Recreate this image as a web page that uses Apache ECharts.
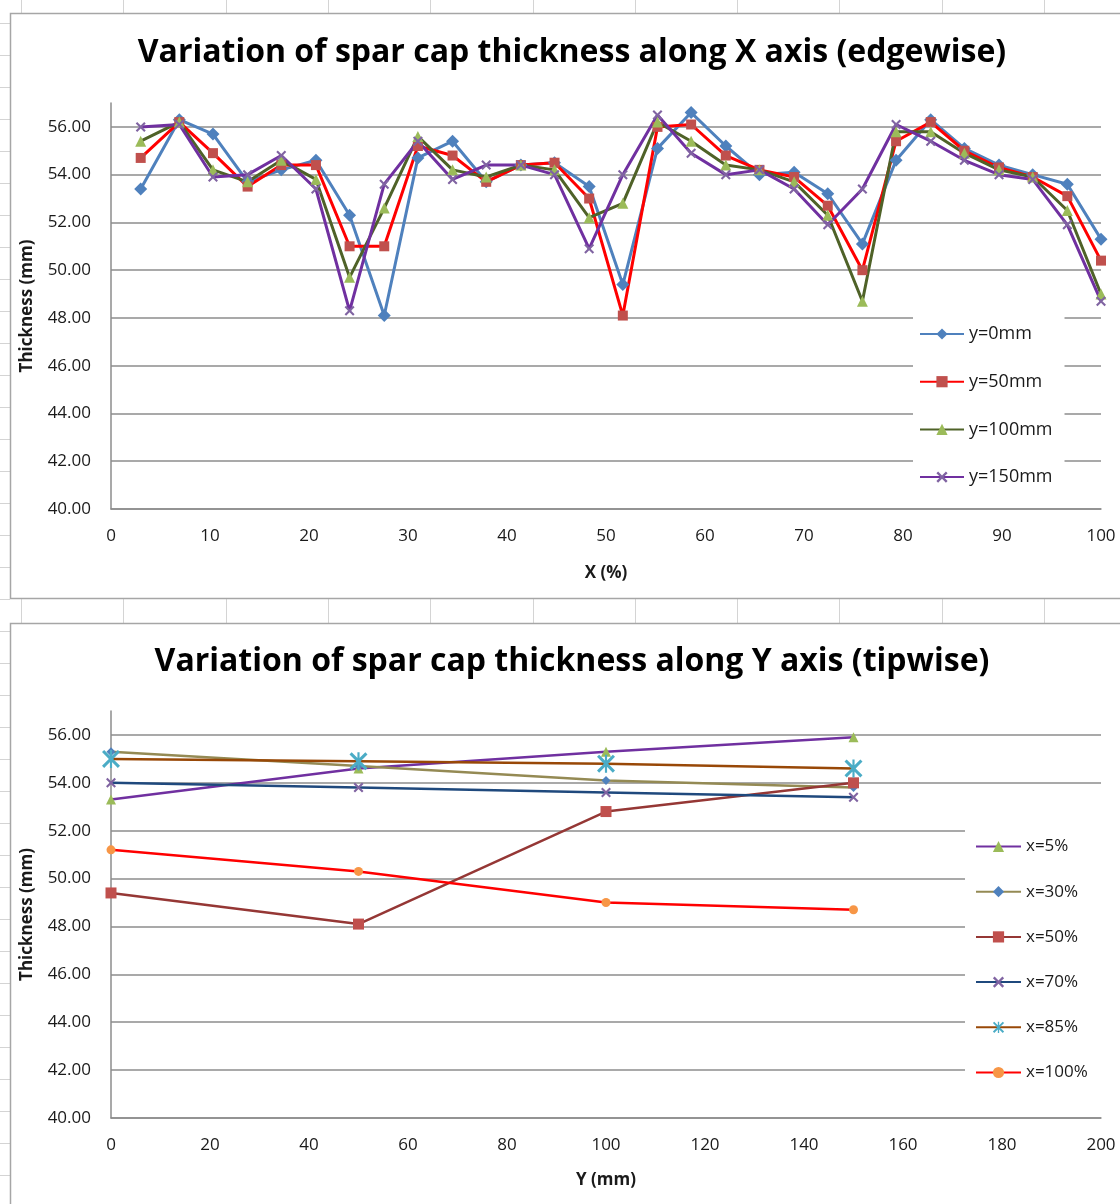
<!DOCTYPE html>
<html>
<head>
<meta charset="utf-8">
<script src="https://cdn.jsdelivr.net/npm/echarts@6/dist/echarts.min.js"></script>
<style>
html,body{margin:0;padding:0;background:#fff;}
#chart{width:1120px;height:1204px;}
</style>
</head>
<body>
<div id="chart"></div>
<script>
// ---- Top chart data: thickness along X (%) for four y positions ----
const xPct = [3, 6.9, 10.3, 13.8, 17.2, 20.7, 24.1, 27.6, 31.0, 34.5, 37.9, 41.4, 44.8, 48.3, 51.7, 55.2, 58.6, 62.1, 65.5, 69.0, 72.4, 75.9, 79.3, 82.8, 86.2, 89.7, 93.1, 96.6, 100];
const y0mm   = [53.4, 56.3, 55.7, 53.7, 54.2, 54.6, 52.3, 48.1, 54.7, 55.4, 53.7, 54.4, 54.5, 53.5, 49.4, 55.1, 56.6, 55.2, 54.0, 54.1, 53.2, 51.1, 54.6, 56.3, 55.1, 54.4, 54.0, 53.6, 51.3];
const y50mm  = [54.7, 56.2, 54.9, 53.5, 54.4, 54.4, 51.0, 51.0, 55.2, 54.8, 53.7, 54.4, 54.5, 53.0, 48.1, 56.0, 56.1, 54.8, 54.2, 53.9, 52.7, 50.0, 55.4, 56.2, 55.0, 54.3, 53.9, 53.1, 50.4];
const y100mm = [55.4, 56.2, 54.2, 53.7, 54.6, 53.8, 49.7, 52.6, 55.6, 54.2, 53.9, 54.4, 54.2, 52.2, 52.8, 56.2, 55.4, 54.4, 54.2, 53.7, 52.3, 48.7, 55.8, 55.8, 54.9, 54.2, 53.9, 52.5, 49.0];
const y150mm = [56.0, 56.1, 53.9, 54.0, 54.8, 53.4, 48.3, 53.6, 55.4, 53.8, 54.4, 54.4, 54.0, 50.9, 54.0, 56.5, 54.9, 54.0, 54.2, 53.4, 51.9, 53.4, 56.1, 55.4, 54.6, 54.0, 53.8, 51.9, 48.7];
const topNames = ['y=0mm', 'y=50mm', 'y=100mm', 'y=150mm'];

// ---- Bottom chart data: thickness along Y (mm) for six x positions ----
const yMM   = [0, 50, 100, 150];
const x5    = [53.3, 54.6, 55.3, 55.9];
const x30   = [55.3, 54.7, 54.1, 53.8];
const x50   = [49.4, 48.1, 52.8, 54.0];
const x70   = [54.0, 53.8, 53.6, 53.4];
const x85   = [55.0, 54.9, 54.8, 54.6];
const x100  = [51.2, 50.3, 49.0, 48.7];
const botNames = ['x=5%', 'x=30%', 'x=50%', 'x=70%', 'x=85%', 'x=100%'];

// ---- Axis settings ----
const thickMin = 40, thickMax = 57, thickStep = 2;
const xPctMin = 0, xPctMax = 100, xPctStep = 10;
const yMMMin = 0, yMMMax = 200, yMMStep = 20;

const FONT = 'Open Sans';
const TXT = '#1a1a1a';
const GRID_C = '#8c8c8c';
const symX = 'path://M0,1.5L1.5,0L5,3.5L8.5,0L10,1.5L6.5,5L10,8.5L8.5,10L5,6.5L1.5,10L0,8.5L3.5,5Z';
const symStar = 'path://M0,1.2L1.2,0L5,3.8L8.8,0L10,1.2L6.2,5L10,8.8L8.8,10L5,6.2L1.2,10L0,8.8L3.8,5Z M4.4,0L5.6,0L5.6,10L4.4,10Z';

function pairs(xs, ys) { return xs.map((x, i) => [x, ys[i]]); }

function lineSeries(name, idx, xs, ys, lineColor, markColor, symbol, size, width) {
  return {
    name: name, type: 'line', xAxisIndex: idx, yAxisIndex: idx,
    data: pairs(xs, ys), symbol: symbol, symbolSize: size, showSymbol: true,
    lineStyle: { color: lineColor, width: width },
    itemStyle: { color: markColor, borderWidth: 0 },
    emphasis: { disabled: true }
  };
}

function xAxisCfg(idx, min, max, step, name, gap) {
  return {
    gridIndex: idx, type: 'value', min: min, max: max, interval: step,
    axisLine: { show: true, lineStyle: { color: GRID_C, width: 1.5 } },
    axisTick: { show: false }, splitLine: { show: false },
    axisLabel: { margin: 19, fontFamily: FONT, fontSize: 17, color: TXT },
    name: name, nameLocation: 'middle', nameGap: gap,
    nameTextStyle: { fontFamily: FONT, fontSize: 17, fontWeight: 'bold', color: TXT }
  };
}
function yAxisCfg(idx) {
  return {
    gridIndex: idx, type: 'value', min: thickMin, max: thickMax, interval: thickStep,
    axisLine: { show: true, lineStyle: { color: GRID_C, width: 1.5 } },
    axisTick: { show: false },
    splitLine: { show: true, showMaxLine: false, lineStyle: { color: GRID_C, width: 1.5 } },
    axisLabel: { margin: 20, fontFamily: FONT, fontSize: 17, color: TXT, showMaxLabel: false,
      formatter: v => (v > 56 ? '' : v.toFixed(2)) },
    name: 'Thickness (mm)', nameLocation: 'middle', nameGap: 75,
    nameTextStyle: { fontFamily: FONT, fontSize: 17, fontWeight: 'bold', color: TXT }
  };
}

// decorative spreadsheet background (cell lines and chart frames)
const deco = [];
for (let k = 0; k < 11; k++) {
  const x = Math.round(21 + k * 102.3) + 0.5;
  deco.push({ type: 'line', shape: { x1: x, y1: 0, x2: x, y2: 13 }, style: { stroke: '#d4d4d4', lineWidth: 1 }, z: -10 });
  deco.push({ type: 'line', shape: { x1: x, y1: 599, x2: x, y2: 623 }, style: { stroke: '#d4d4d4', lineWidth: 1 }, z: -10 });
}
for (let k = 0; k < 38; k++) {
  const y = 23 + k * 32 + 0.5;
  deco.push({ type: 'line', shape: { x1: 0, y1: y, x2: 10, y2: y }, style: { stroke: '#d4d4d4', lineWidth: 1 }, z: -10 });
}
deco.push({ type: 'rect', shape: { x: 10.5, y: 13.5, width: 1130, height: 585 }, style: { fill: '#fff', stroke: '#a6a6a6', lineWidth: 1.5 }, z: -5 });
deco.push({ type: 'rect', shape: { x: 10.5, y: 623.5, width: 1130, height: 600 }, style: { fill: '#fff', stroke: '#a6a6a6', lineWidth: 1.5 }, z: -5 });

const option = {
  animation: false,
  backgroundColor: '#fff',
  graphic: { elements: deco },
  title: [
    { text: 'Variation of spar cap thickness along X axis (edgewise)', left: 572, top: 37, textAlign: 'center', padding: 0,
      textStyle: { fontFamily: FONT, fontWeight: 'bold', fontSize: 32, color: '#000' } },
    { text: 'Variation of spar cap thickness along Y axis (tipwise)', left: 572, top: 646, textAlign: 'center', padding: 0,
      textStyle: { fontFamily: FONT, fontWeight: 'bold', fontSize: 32, color: '#000' } }
  ],
  grid: [
    { left: 111, top: 103, width: 990, height: 406 },
    { left: 111, top: 711, width: 990, height: 407 }
  ],
  xAxis: [
    xAxisCfg(0, xPctMin, xPctMax, xPctStep, 'X (%)', 56),
    xAxisCfg(1, yMMMin, yMMMax, yMMStep, 'Y (mm)', 54)
  ],
  yAxis: [yAxisCfg(0), yAxisCfg(1)],
  legend: [
    { data: topNames, orient: 'vertical', left: 913, top: 314, padding: [11, 12, 11, 6],
      itemWidth: 44, itemHeight: 14, itemGap: 29.7, backgroundColor: '#fff',
      textStyle: { fontFamily: FONT, fontSize: 18, color: TXT } },
    { data: botNames, orient: 'vertical', left: 965, top: 823, padding: [15, 20, 15, 10],
      itemWidth: 45, itemHeight: 14, itemGap: 28.2, backgroundColor: '#fff',
      textStyle: { fontFamily: FONT, fontSize: 17, color: TXT } }
  ],
  series: [
    lineSeries(topNames[0], 0, xPct, y0mm,   '#4F81BD', '#4F81BD', 'diamond', 13, 3),
    lineSeries(topNames[1], 0, xPct, y50mm,  '#FF0000', '#C0504D', 'rect', 10, 3),
    lineSeries(topNames[2], 0, xPct, y100mm, '#4F6228', '#9BBB59', 'triangle', 11, 3),
    lineSeries(topNames[3], 0, xPct, y150mm, '#7030A0', '#8064A2', symX, 10, 3),
    lineSeries(botNames[0], 1, yMM, x5,   '#7030A0', '#9BBB59', 'triangle', 10, 2.5),
    lineSeries(botNames[1], 1, yMM, x30,  '#948A54', '#4F81BD', 'diamond', 9, 2.5),
    lineSeries(botNames[2], 1, yMM, x50,  '#953735', '#C0504D', 'rect', 11, 2.5),
    lineSeries(botNames[3], 1, yMM, x70,  '#1F497D', '#8064A2', symX, 10, 2.5),
    lineSeries(botNames[4], 1, yMM, x85,  '#984807', '#4BACC6', symStar, 18, 2.5),
    lineSeries(botNames[5], 1, yMM, x100, '#FF0000', '#F79646', 'circle', 9, 2.5)
  ]
};

const chart = echarts.init(document.getElementById('chart'), null, { renderer: 'canvas' });
chart.setOption(option);
</script>
</body>
</html>
